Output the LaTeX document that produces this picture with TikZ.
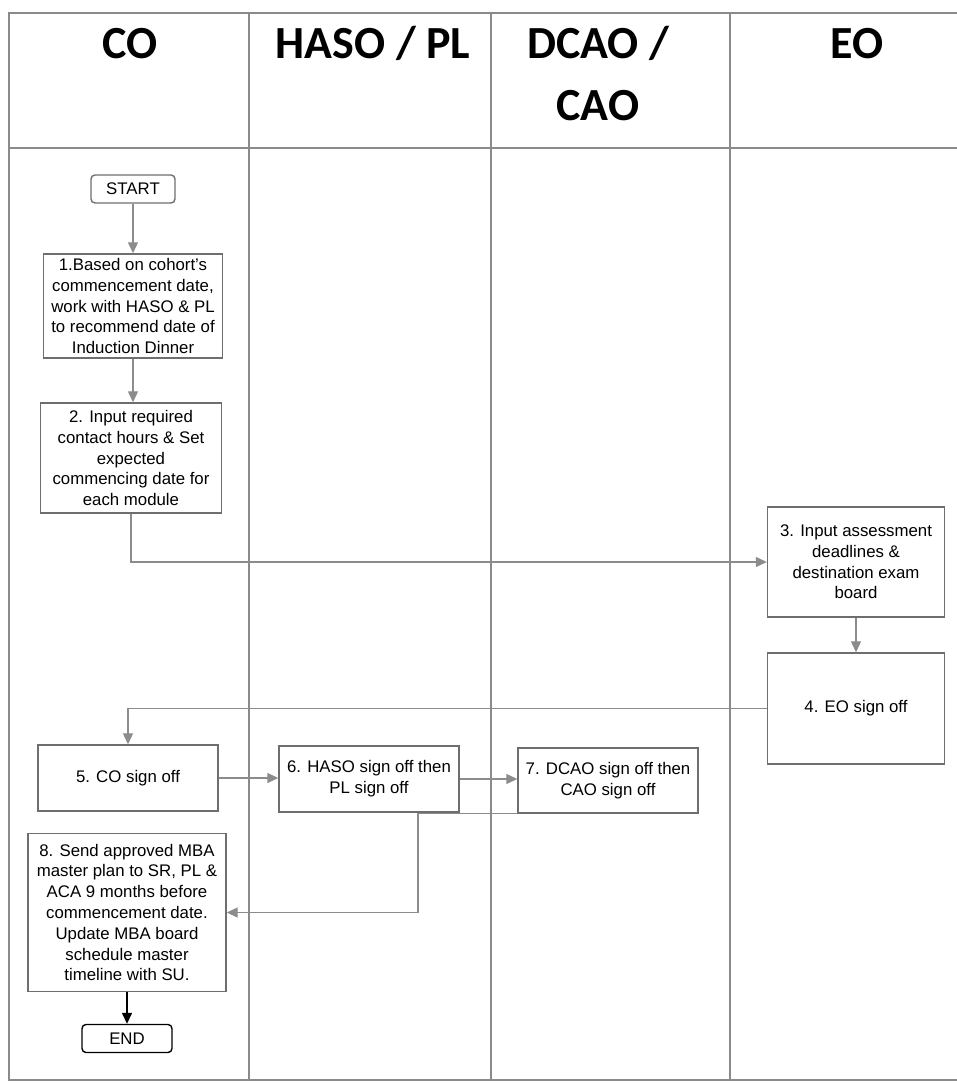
\documentclass[tikz,border=0pt]{standalone}
\usepackage{fontspec}
\setmainfont{Liberation Sans}
\newfontfamily\hdrfont{Carlito}
\usetikzlibrary{arrows.meta}
\definecolor{lanegray}{HTML}{8A8A8A}
\definecolor{boxgray}{HTML}{6E6E6E}
\definecolor{linkgray}{HTML}{8C8C8C}
\tikzset{
  lane/.style={draw=lanegray, line width=1.3pt},
  hdr/.style={font=\hdrfont\bfseries\fontsize{46}{62}\selectfont, anchor=base, align=center, inner sep=0pt},
  stepbox/.style={draw=boxgray, line width=1.4pt, fill=white, align=center, inner sep=2pt,
    font=\fontsize{16.8}{20.8}\selectfont},
  term/.style={stepbox, rounded corners=4pt},
  link/.style={draw=linkgray, line width=1.2pt, -{Triangle[length=11pt,width=10pt]}},
  darklink/.style={draw=black, line width=1.4pt, -{Triangle[length=11pt,width=10pt]}},
}
\begin{document}
\begin{tikzpicture}[x=1pt,y=-1pt]
\useasboundingbox (0,0) rectangle (957,1084);
% frame and lanes
\draw[lane] (957,13) -- (9,13) -- (9,1080) -- (957,1080);
\draw[lane] (9,148) -- (957,148);
\draw[lane] (249,13) -- (249,1080);
\draw[lane] (491,13) -- (491,1080);
\draw[lane] (730,13) -- (730,1080);
% headers
\node[hdr] (hco) at (130,58) {CO};
\node[hdr] (hhaso) at (373,58) {HASO / PL};
\node[hdr] (hdcao) at (598,120) {DCAO /\\CAO};
\node[hdr] (heo) at (857,58) {EO};
% steps
\node[term, minimum width=84pt, minimum height=28pt] (start) at (133,189) {START};
\node[stepbox, minimum width=179pt, minimum height=104pt] (n1) at (133,306)
  {1.Based on cohort's\\commencement date,\\work with HASO \& PL\\to recommend date of\\Induction Dinner};
\node[stepbox, minimum width=181pt, minimum height=110pt] (n2) at (131,458)
  {2. Input required\\contact hours \& Set\\expected\\commencing date for\\each module};
\node[stepbox, minimum width=177pt, minimum height=110pt] (n3) at (856,562)
  {3. Input assessment\\deadlines \&\\destination exam\\board};
\node[stepbox, minimum width=177pt, minimum height=111pt] (n4) at (856,708.5)
  {4. EO sign off};
\node[stepbox, minimum width=180pt, minimum height=66pt] (n5) at (128,778)
  {5. CO sign off};
\node[stepbox, minimum width=180pt, minimum height=66pt] (n6) at (369,779)
  {6. HASO sign off then\\PL sign off};
\node[stepbox, minimum width=180pt, minimum height=65pt] (n7) at (608,780.5)
  {7. DCAO sign off then\\CAO sign off};
\node[stepbox, minimum width=198pt, minimum height=158pt] (n8) at (127,912.5)
  {8. Send approved MBA\\master plan to SR, PL \&\\ACA 9 months before\\commencement date.\\Update MBA board\\schedule master\\timeline with SU.};
\node[term, draw=black, minimum width=90pt, minimum height=28pt] (end) at (127,1038.5) {END};
\coordinate (bend) at (418,912.5);
% connectors
\draw[link] (start.south) -- (start.south |- n1.north);
\draw[link] (n1.south) -- (n1.south |- n2.north);
\draw[link] (n2.south) |- (n3.west);
\draw[link] (n3.south) -- (n4.north);
\draw[link] (n4.west) -| (n5.north);
\draw[link] (n5.east) -- (n5.east -| n6.west);
\draw[link] (n6.east) -- (n6.east -| n7.west);
\draw[link] (n7.south west) -| (bend) -- (bend -| n8.east);
\draw[darklink] (n8.south) -- (end.north);
\end{tikzpicture}
\end{document}
